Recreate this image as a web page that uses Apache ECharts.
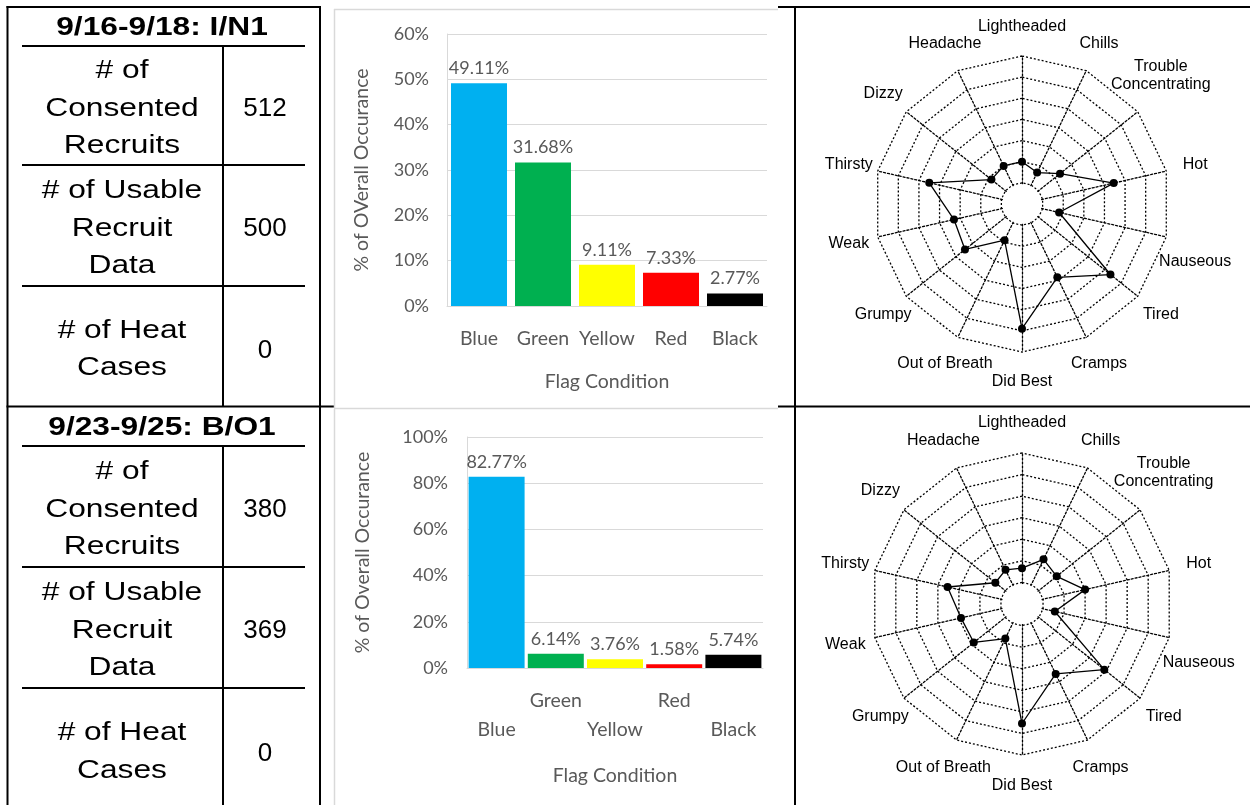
<!DOCTYPE html>
<html>
<head>
<meta charset="utf-8">
<script src="https://cdn.jsdelivr.net/npm/echarts@6/dist/echarts.min.js"></script>
<style>
  html, body { margin: 0; padding: 0; background: #fff; }
  #main { width: 1250px; height: 805px; }
</style>
</head>
<body>
<div id="main"></div>
<script>
// ---- Recruit counts per training period ----
const periods = ['9/16-9/18: I/N1', '9/23-9/25: B/O1'];
const rowLabels = ['# of\nConsented\nRecruits', '# of Usable\nRecruit\nData', '# of Heat\nCases'];
const consentedRecruits = [512, 380];
const usableRecruits = [500, 369];
const heatCases = [0, 0];

// ---- Flag condition share (% of overall occurrence) ----
const flagConditions = ['Blue', 'Green', 'Yellow', 'Red', 'Black'];
const flagColors = ['#00b0f0', '#00b050', '#ffff00', '#ff0000', '#000000'];
const flagShareP1 = [49.11, 31.68, 9.11, 7.33, 2.77];
const flagShareP2 = [82.77, 6.14, 3.76, 1.58, 5.74];
const yAxisMaxP1 = 60, yAxisStepP1 = 10;
const yAxisMaxP2 = 100, yAxisStepP2 = 20;
const yAxisNames = ['% of OVerall Occurance', '% of Overall Occurance'];
const xAxisName = 'Flag Condition';

// ---- Symptom scores, listed clockwise from the top ----
const symptoms = ['Lightheaded', 'Chills', 'Trouble\nConcentrating', 'Hot', 'Nauseous', 'Tired',
  'Cramps', 'Did Best', 'Out of Breath', 'Grumpy', 'Weak', 'Thirsty', 'Dizzy', 'Headache'];
const symptomScoreP1 = [1.0, 0.65, 1.3, 3.45, 0.8, 4.35, 2.85, 4.9, 0.9, 2.45, 2.3, 3.5, 0.85, 1.0];
const symptomScoreP2 = [0.66, 1.3, 1.06, 2.0, 0.56, 3.88, 2.6, 4.54, 0.78, 1.86, 1.9, 2.54, 0.58, 0.76];
const scoreMin = -1, scoreMax = 6;   // one empty ring in the middle, six scored rings

// ECharts lays radar indicators out counter-clockwise; flip to read clockwise
const clockwise = a => [a[0]].concat(a.slice(1).reverse());

const chart = echarts.init(document.getElementById('main'), null, { renderer: 'canvas' });

const GRAY_TEXT = '#595959';
const GRID_GRAY = '#d9d9d9';
const BAR_FONT = 'Lato, "Open Sans", sans-serif';
const ARIAL = '"Liberation Sans", Arial, sans-serif';

// ---------- table and frame drawn as graphic elements ----------
const graphics = [];
function line(x1, y1, x2, y2, color, w) {
  graphics.push({ type: 'line', silent: true, z: 10,
    shape: { x1, y1, x2, y2 }, style: { stroke: color, lineWidth: w } });
}
function text(str, x, y, font, sx) {
  graphics.push({ type: 'text', silent: true, z: 10, x, y, scaleX: sx || 1,
    style: { text: str, font, fill: '#000', align: 'center', verticalAlign: 'middle', lineHeight: 37.5 } });
}

const blocks = [
  { top: 7, header: 46, rows: [46, 165, 286, 406.5] },
  { top: 406.5, header: 446, rows: [446, 567, 688, 810] }
];
const counts = [consentedRecruits, usableRecruits, heatCases];

// outer table lines
line(7.5, 6, 7.5, 805, '#000', 2);
line(320, 6, 320, 805, '#000', 2);
line(6.5, 7, 321, 7, '#000', 2);
line(6.5, 406.5, 334, 406.5, '#000', 2);
// frame around the radar column
line(778, 7, 1250, 7, '#000', 2);
line(795, 6, 795, 805, '#000', 2);
line(778, 406.5, 1250, 406.5, '#000', 2);
// light chart-area borders around the bar charts
line(334.5, 9, 334.5, 408, GRID_GRAY, 1.5);
line(334, 9.5, 778, 9.5, GRID_GRAY, 1.5);
line(334, 408.5, 778, 408.5, GRID_GRAY, 1.5);
line(334.5, 409, 334.5, 805, GRID_GRAY, 1.5);

blocks.forEach((b, bi) => {
  text(periods[bi], 162, (b.top + b.header) / 2 + 1.5, 'bold 26px ' + ARIAL, 1.22);
  b.rows.slice(0, 3).forEach(y => line(22, y, 305, y, '#000', 2));
  line(223, b.header, 223, b.rows[3], '#000', 2);
  for (let ri = 0; ri < 3; ri++) {
    const cy = (b.rows[ri] + b.rows[ri + 1]) / 2 + 3;
    text(rowLabels[ri], 122, cy, '26px ' + ARIAL, 1.22);
    text(String(counts[ri][bi]), 265, cy + (ri === 2 ? 2 : 0), '26px ' + ARIAL, 1);
  }
});

// white hub covering the spokes inside the first ring
const radarGeom = [{ c: [1022, 204], r: 148 }, { c: [1022, 604], r: 151 }];
radarGeom.forEach(g => {
  graphics.push({ type: 'circle', silent: true, z: 1,
    shape: { cx: g.c[0], cy: g.c[1], r: g.r / 7 * 0.93 }, style: { fill: '#fff' } });
});

// ---------- bar charts ----------
const grids = [
  { left: 447, top: 34, width: 320, height: 272 },
  { left: 467, top: 437, width: 296, height: 231 }
];
const yMax = [yAxisMaxP1, yAxisMaxP2], ySteps = [yAxisStepP1, yAxisStepP2];
const shares = [flagShareP1, flagShareP2];
const xNameGap = [66, 98], yNameGap = [75.5, 94];

const xAxes = grids.map((g, i) => ({
  type: 'category', gridIndex: i, data: flagConditions,
  name: xAxisName, nameLocation: 'middle', nameGap: xNameGap[i], nameMoveOverlap: false,
  nameTextStyle: { color: GRAY_TEXT, fontFamily: BAR_FONT, fontSize: 19.5 },
  axisLine: { lineStyle: { color: GRID_GRAY, width: 1 } },
  axisTick: { show: false },
  axisLabel: {
    interval: 0, margin: 18, color: GRAY_TEXT, fontFamily: BAR_FONT, fontSize: 19.5, lineHeight: 29,
    formatter: (v, idx) => (i === 1 && idx % 2 === 0) ? '\n' + v : v
  }
}));
const yAxes = grids.map((g, i) => ({
  type: 'value', gridIndex: i, min: 0, max: yMax[i], interval: ySteps[i],
  name: yAxisNames[i], nameLocation: 'middle', nameGap: yNameGap[i], nameMoveOverlap: false,
  nameTextStyle: { color: GRAY_TEXT, fontFamily: BAR_FONT, fontSize: 19.5 },
  axisLine: { show: true, lineStyle: { color: GRID_GRAY, width: 1 } },
  axisTick: { show: false },
  axisLabel: { formatter: '{value}%', margin: i ? 19 : 18, color: GRAY_TEXT, fontFamily: BAR_FONT, fontSize: 18 },
  splitLine: { lineStyle: { color: GRID_GRAY, width: 1 } }
}));
const barSeries = shares.map((vals, i) => ({
  type: 'bar', xAxisIndex: i, yAxisIndex: i, barWidth: 56, z: 3,
  data: vals.map((v, k) => ({ value: v, itemStyle: { color: flagColors[k] } })),
  label: {
    show: true, position: 'top', distance: 6,
    formatter: p => p.value.toFixed(2) + '%',
    color: GRAY_TEXT, fontFamily: BAR_FONT, fontSize: 18
  }
}));

// ---------- symptom radars ----------
const dotted = { color: '#000', width: 1.3, type: [2, 2] };
const radars = radarGeom.map(g => ({
  center: g.c, radius: g.r, startAngle: 90, splitNumber: 7, shape: 'polygon',
  indicator: clockwise(symptoms).map(n => ({ name: n, min: scoreMin, max: scoreMax })),
  nameGap: g.r * 0.2,
  axisName: {
    color: '#000', fontFamily: ARIAL, fontSize: 16, lineHeight: 18,
    align: 'center', verticalAlign: 'middle',
    formatter: n => n === 'Nauseous' ? '\n\n' + n : (n.indexOf('Concentrating') >= 0 ? n + '\n\n' : n)
  },
  axisLine: { show: true, lineStyle: dotted },
  splitLine: { show: true, lineStyle: dotted },
  splitArea: { show: false },
  axisTick: { show: false },
  axisLabel: { show: false }
}));
const radarSeries = [symptomScoreP1, symptomScoreP2].map((vals, i) => ({
  type: 'radar', radarIndex: i, z: 5,
  symbol: 'circle', symbolSize: 8,
  lineStyle: { color: '#000', width: 1.3 },
  itemStyle: { color: '#000' },
  data: [{ value: clockwise(vals) }]
}));

chart.setOption({
  animation: false,
  backgroundColor: '#fff',
  grid: grids.map(g => Object.assign({ outerBoundsMode: 'none', containLabel: false }, g)),
  xAxis: xAxes,
  yAxis: yAxes,
  radar: radars,
  series: barSeries.concat(radarSeries),
  graphic: { elements: graphics }
});
</script>
</body>
</html>
